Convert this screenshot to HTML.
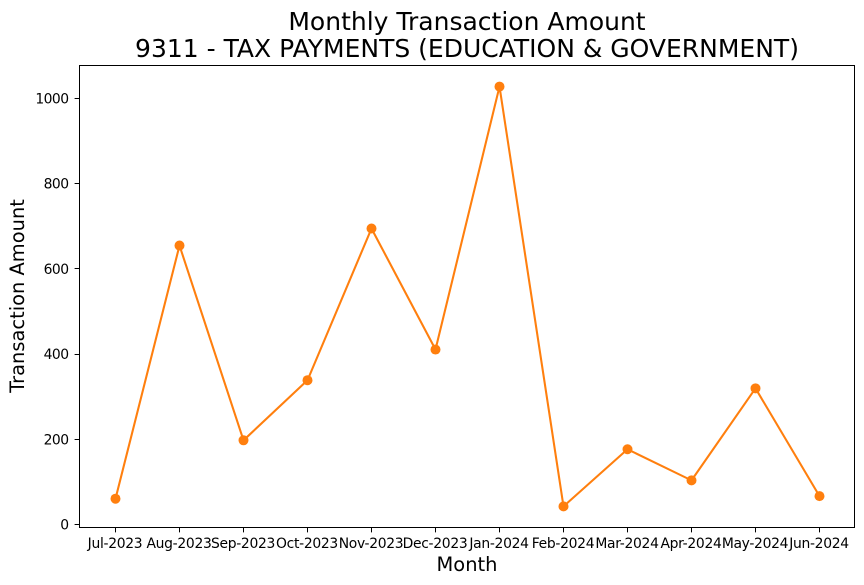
<!DOCTYPE html>
<html>
<head>
<meta charset="utf-8">
<style>
html,body{margin:0;padding:0;background:#fff;}
svg{display:block;font-family:"DejaVu Sans","Liberation Sans",sans-serif;}
</style>
</head>
<body>
<svg id="chart" width="864" height="585" viewBox="0 0 864 585" xmlns="http://www.w3.org/2000/svg">
  <rect x="0" y="0" width="864" height="585" fill="#fff"/>
  <text x="467" y="30" font-size="25" text-anchor="middle" fill="#000">Monthly Transaction Amount</text>
  <text x="467" y="57" font-size="25" text-anchor="middle" fill="#000">9311 - TAX PAYMENTS (EDUCATION &amp; GOVERNMENT)</text>
  <text x="467" y="571" font-size="19.44" text-anchor="middle" fill="#000">Month</text>
  <text transform="translate(24 296) rotate(-90)" font-size="19.44" text-anchor="middle" fill="#000">Transaction Amount</text>
  <g id="ticks"></g>
  <g id="series"></g>
  <rect x="79.5" y="65.5" width="775" height="470" fill="none" stroke="#000" stroke-width="1" id="frame"/>
</svg>
<script>
const categories = ["Jul-2023","Aug-2023","Sep-2023","Oct-2023","Nov-2023","Dec-2023","Jan-2024","Feb-2024","Mar-2024","Apr-2024","May-2024","Jun-2024"];
const amounts = [61,655,198,339,695,411,1028,43,177,104,320,67];
const yTickValues = [0,200,400,600,800,1000];

const NS = "http://www.w3.org/2000/svg";
const plot = {left:79.5, right:854.5, top:65.5, bottom:527.5};
function xScale(i){
  return 115.5 + i * (819.5 - 115.5) / (categories.length - 1);
}
function yScale(v){
  return 524.7 - v * 0.4262;
}
function make(tag, attrs, parent){
  const el = document.createElementNS(NS, tag);
  for (const k in attrs) el.setAttribute(k, attrs[k]);
  parent.appendChild(el);
  return el;
}
const frame = document.getElementById("frame");
frame.setAttribute("height", plot.bottom - plot.top);
const ticks = document.getElementById("ticks");
const series = document.getElementById("series");

categories.forEach(function(label, i){
  const x = Math.round(xScale(i) - 0.5) + 0.5;
  const tick = make("line", {x1:x, x2:x, y1:plot.bottom, y2:plot.bottom + 4.9, stroke:"#000", "stroke-width":1}, ticks);
  
  
  const text = make("text", {x:xScale(i) - 0.5, y:548, "font-size":13.89, "letter-spacing":-0.3, "text-anchor":"middle", fill:"#000"}, ticks);
  
  
  text.textContent = label;
});

yTickValues.forEach(function(v){
  const y = Math.round(yScale(v) - 0.5) + 0.5;
  const tick = make("line", {x1:plot.left - 4.9, x2:plot.left, y1:y, y2:y, stroke:"#000", "stroke-width":1}, ticks);
  
  
  const text = make("text", {x:plot.left - 11, y:yScale(v) + 5, "font-size":13.89, "letter-spacing":-0.55, "text-anchor":"end", fill:"#000"}, ticks);
  
  
  text.textContent = String(v);
});

const linePoints = amounts.map(function(v, i){ return xScale(i) + "," + yScale(v); }).join(" ");
const line = make("polyline", {points:linePoints, fill:"none", stroke:"#ff7f0e", "stroke-width":2.08, "stroke-linejoin":"round"}, series);



amounts.forEach(function(v, i){
  const point = make("circle", {cx:xScale(i), cy:yScale(v), r:5, fill:"#ff7f0e"}, series);
  
  
});
</script>
</body>
</html>
